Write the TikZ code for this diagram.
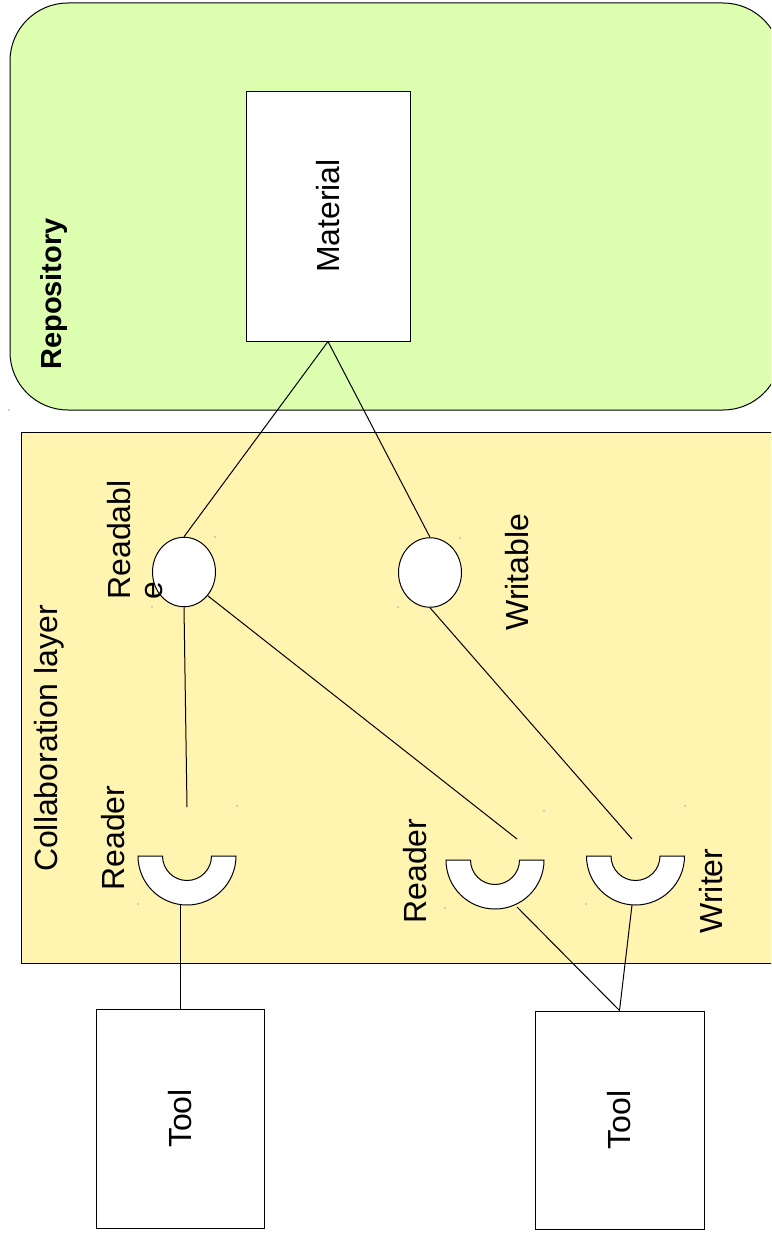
\documentclass[tikz,border=0pt]{standalone}
\usepackage{fontspec}
\setmainfont{Liberation Sans}
\usetikzlibrary{shapes.geometric}
\definecolor{repogreen}{RGB}{221,255,176}
\definecolor{layeryellow}{RGB}{255,244,176}
\newcommand{\mainsize}{\fontsize{32}{34}\selectfont}
\begin{document}
\begin{tikzpicture}[x=1pt,y=1pt,line width=1pt,
  lbl/.style={rotate=90, anchor=base, inner sep=0pt, font=\mainsize},
  box/.style={draw, fill=white, inner sep=0pt, font=\mainsize},
  port/.style={draw, fill=white, ellipse, minimum width=63, minimum height=69.5, inner sep=0pt},
  wire/.style={draw, line width=1pt},
  speck/.style={fill=gray!70},
  socketpic/.pic={\draw[fill=white] (-49,0) arc[start angle=180,end angle=360,radius=49]
      -- (24.5,0) arc[start angle=0,end angle=-180,radius=24.5] -- cycle;}
]
\useasboundingbox (0,0) rectangle (771,-1239);
\clip (0,0) rectangle (771,-1239);
% containers
\draw[fill=repogreen, rounded corners=58] (10,-3) rectangle (781,-410);
\draw[fill=layeryellow] (21,-432) rectangle (785,-963);
% main nodes
\node[box, minimum width=164, minimum height=250] (material) at (328,-216) {\rotatebox{90}{Material}};
\node[port] (readable) at (184,-572) {};
\node[port] (writable) at (430,-572.5) {};
\pic (r1) at (187,-856) {socketpic};
\pic (r2) at (495,-860) {socketpic};
\pic (w1) at (635.5,-856) {socketpic};
\node[box, minimum width=168, minimum height=219] (tool1) at (180,-1118.5) {\rotatebox{90}{Tool}};
\node[box, minimum width=169, minimum height=218] (tool2) at (619.5,-1120) {\rotatebox{90}{Tool}};
% connector end points at the sockets
\coordinate (r1in) at (187,-807);
\coordinate (r1out) at (180,-904.5);
\coordinate (r2in) at (517,-839);
\coordinate (r2out) at (517,-907);
\coordinate (w1in) at (632,-839);
\coordinate (w1out) at (632,-905);
% connectors
\draw[wire] (material.south) -- (readable.north);
\draw[wire] (material.south) -- (writable.north);
\draw[wire] (readable.south) -- (r1in);
\draw[wire] (readable.-45) -- (r2in);
\draw[wire] (writable.south) -- (w1in);
\draw[wire] (r1out) -- (tool1.north);
\draw[wire] (r2out) -- (tool2.north);
\draw[wire] (w1out) -- (tool2.north);
% labels
\node[lbl, font=\fontsize{29}{31}\selectfont\bfseries] (repolbl) at (61,-294) {Repository};
\node[lbl] (layerlbl) at (57,-738.5) {Collaboration layer};
\node[lbl, anchor=base west] (readlbl1) at (130,-600) {Readabl};
\node[lbl, anchor=base west] (readlbl2) at (162,-600) {e};
\node[lbl] (writlbl) at (528.5,-572) {Writable};
\node[lbl] (rdr1lbl) at (124,-838) {Reader};
\node[lbl] (rdr2lbl) at (426,-871) {Reader};
\node[lbl] (wrtlbl) at (722,-891) {Writer};
% tiny bounding specks
\foreach \p in {(9,-410),(215,-537),(152,-607),(460,-538),(398,-607),(237,-806),(138,-904),(544,-811),(445,-908),(685,-806),(586,-904)}
  \fill[speck] \p circle (0.8);
\end{tikzpicture}
\end{document}
